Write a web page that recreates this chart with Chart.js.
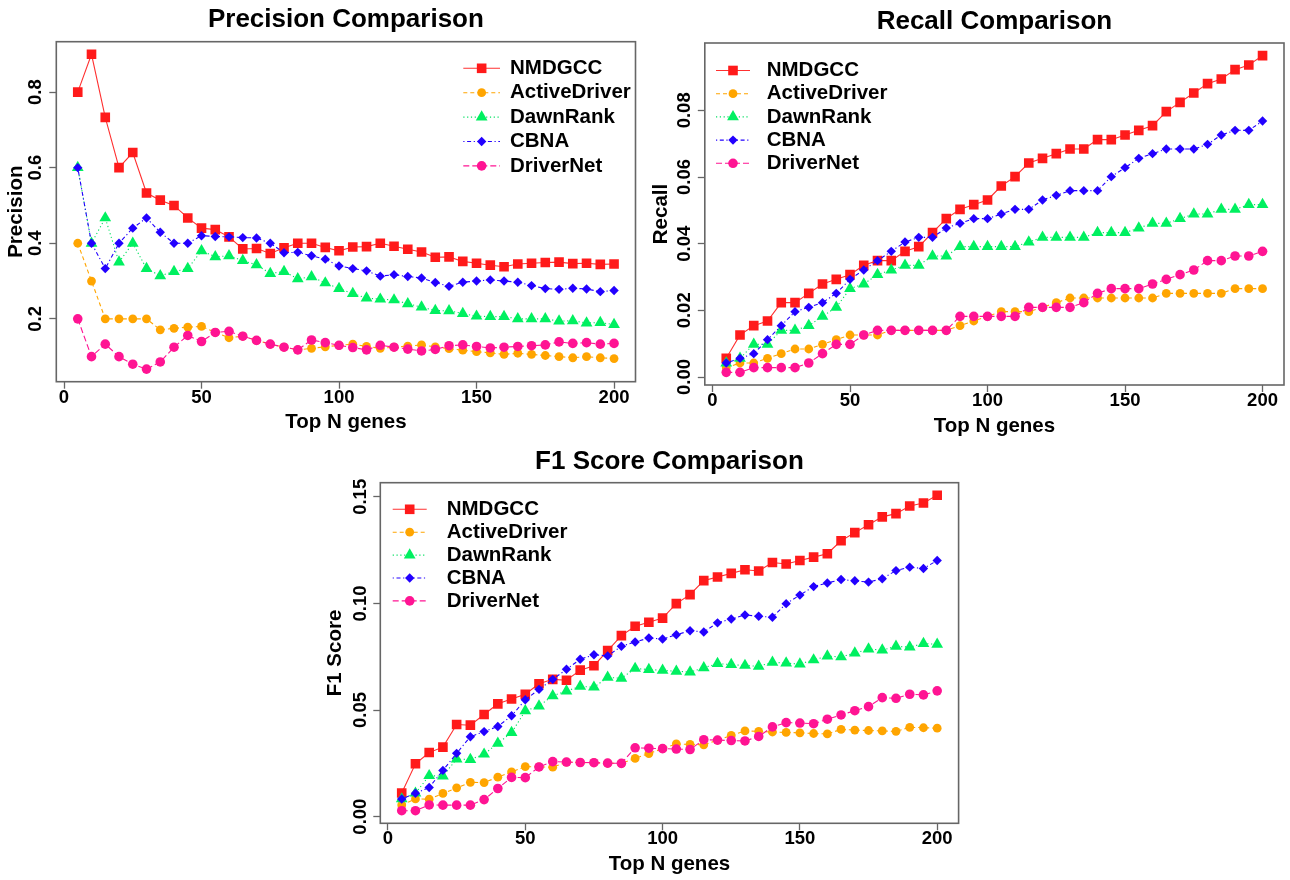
<!DOCTYPE html>
<html><head><meta charset="utf-8">
<script src="https://cdn.jsdelivr.net/npm/chart.js@4.4.1/dist/chart.umd.min.js"></script>
<style>
html,body{margin:0;padding:0;background:#fff;width:1290px;height:880px;overflow:hidden;}
canvas{position:absolute;}
</style></head><body>
<canvas id="cPrec" width="645" height="440" style="left:0px;top:0px;width:645px;height:440px"></canvas>
<canvas id="cRec" width="645" height="440" style="left:645px;top:0px;width:645px;height:440px"></canvas>
<canvas id="cF1" width="650" height="440" style="left:320px;top:440px;width:650px;height:440px"></canvas>
<script>
// ---------------- DATA ----------------
const methods = ['NMDGCC','ActiveDriver','DawnRank','CBNA','DriverNet'];
const topN = [5,10,15,20,25,30,35,40,45,50,55,60,65,70,75,80,85,90,95,100,105,110,115,120,125,130,135,140,145,150,155,160,165,170,175,180,185,190,195,200];

const xTicks = [0,50,100,150,200];
const xTickLabels = ['0','50','100','150','200'];
const precTicks = [0.2,0.4,0.6,0.8];
const precTickLabels = ['0.2','0.4','0.6','0.8'];
const recTicks = [0,0.02,0.04,0.06,0.08];
const recTickLabels = ['0.00','0.02','0.04','0.06','0.08'];
const f1Ticks = [0,0.05,0.10,0.15];
const f1TickLabels = ['0.00','0.05','0.10','0.15'];

const precNMDGCC = [0.8,0.9,0.733,0.6,0.64,0.533,0.514,0.5,0.467,0.44,0.436,0.417,0.385,0.386,0.373,0.388,0.4,0.4,0.389,0.38,0.39,0.391,0.4,0.392,0.384,0.377,0.363,0.364,0.352,0.347,0.342,0.338,0.345,0.347,0.349,0.35,0.346,0.347,0.344,0.345];
const precActiveDriver = [0.4,0.3,0.2,0.2,0.2,0.2,0.171,0.175,0.178,0.18,0.164,0.15,0.154,0.143,0.133,0.125,0.118,0.122,0.126,0.13,0.133,0.127,0.122,0.125,0.128,0.131,0.126,0.121,0.117,0.113,0.11,0.106,0.109,0.106,0.103,0.1,0.097,0.1,0.097,0.095];
const precDawnRank = [0.6,0.4,0.467,0.35,0.4,0.333,0.314,0.325,0.333,0.38,0.364,0.367,0.354,0.343,0.32,0.325,0.306,0.311,0.295,0.28,0.267,0.255,0.252,0.25,0.24,0.231,0.222,0.221,0.214,0.207,0.206,0.206,0.2,0.2,0.2,0.194,0.195,0.189,0.19,0.185];
const precCBNA = [0.6,0.4,0.333,0.4,0.44,0.467,0.429,0.4,0.4,0.42,0.418,0.417,0.415,0.414,0.4,0.375,0.376,0.367,0.358,0.34,0.333,0.327,0.313,0.317,0.312,0.308,0.296,0.286,0.297,0.3,0.303,0.3,0.297,0.288,0.28,0.278,0.281,0.279,0.272,0.275];
const precDriverNet = [0.2,0.1,0.133,0.1,0.08,0.067,0.086,0.125,0.156,0.14,0.164,0.167,0.154,0.143,0.133,0.125,0.118,0.144,0.137,0.13,0.124,0.118,0.13,0.125,0.12,0.115,0.119,0.129,0.131,0.127,0.123,0.125,0.127,0.129,0.131,0.139,0.135,0.137,0.133,0.135];

const recNMDGCC = [0.0056,0.0126,0.0154,0.0168,0.0223,0.0223,0.0251,0.0279,0.0293,0.0307,0.0335,0.0349,0.0349,0.0377,0.0391,0.0433,0.0475,0.0503,0.0517,0.0531,0.0573,0.0601,0.0642,0.0656,0.067,0.0684,0.0684,0.0712,0.0712,0.0726,0.074,0.0754,0.0796,0.0824,0.0852,0.088,0.0894,0.0922,0.0936,0.0964];
const recActiveDriver = [0.0028,0.0042,0.0042,0.0056,0.007,0.0084,0.0084,0.0098,0.0112,0.0126,0.0126,0.0126,0.014,0.014,0.014,0.014,0.014,0.0154,0.0168,0.0182,0.0196,0.0196,0.0196,0.0209,0.0223,0.0237,0.0237,0.0237,0.0237,0.0237,0.0237,0.0237,0.0251,0.0251,0.0251,0.0251,0.0251,0.0265,0.0265,0.0265];
const recDawnRank = [0.0042,0.0056,0.0098,0.0098,0.014,0.014,0.0154,0.0182,0.0209,0.0265,0.0279,0.0307,0.0321,0.0335,0.0335,0.0363,0.0363,0.0391,0.0391,0.0391,0.0391,0.0391,0.0405,0.0419,0.0419,0.0419,0.0419,0.0433,0.0433,0.0433,0.0447,0.0461,0.0461,0.0475,0.0489,0.0489,0.0503,0.0503,0.0517,0.0517];
const recCBNA = [0.0042,0.0056,0.007,0.0112,0.0154,0.0196,0.0209,0.0223,0.0251,0.0293,0.0321,0.0349,0.0377,0.0405,0.0419,0.0419,0.0447,0.0461,0.0475,0.0475,0.0489,0.0503,0.0503,0.0531,0.0545,0.0559,0.0559,0.0559,0.0601,0.0628,0.0656,0.067,0.0684,0.0684,0.0684,0.0698,0.0726,0.074,0.074,0.0768];
const recDriverNet = [0.0014,0.0014,0.0028,0.0028,0.0028,0.0028,0.0042,0.007,0.0098,0.0098,0.0126,0.014,0.014,0.014,0.014,0.014,0.014,0.0182,0.0182,0.0182,0.0182,0.0182,0.0209,0.0209,0.0209,0.0209,0.0223,0.0251,0.0265,0.0265,0.0265,0.0279,0.0293,0.0307,0.0321,0.0349,0.0349,0.0363,0.0363,0.0377];

const f1NMDGCC = [0.0111,0.0248,0.0301,0.0326,0.0432,0.0429,0.0479,0.0529,0.0552,0.0574,0.0623,0.0644,0.064,0.0687,0.0708,0.0779,0.0849,0.0893,0.0912,0.0931,0.0999,0.1041,0.1107,0.1124,0.1141,0.1158,0.1152,0.1192,0.1185,0.1201,0.1217,0.1233,0.1294,0.1332,0.1369,0.1406,0.1421,0.1457,0.1471,0.1507];
const f1ActiveDriver = [0.0055,0.0083,0.0082,0.0109,0.0135,0.0161,0.016,0.0185,0.021,0.0235,0.0233,0.0232,0.0256,0.0254,0.0253,0.0251,0.025,0.0273,0.0296,0.0319,0.0341,0.0339,0.0337,0.0359,0.0381,0.0402,0.04,0.0397,0.0395,0.0393,0.039,0.0388,0.0409,0.0406,0.0404,0.0402,0.04,0.0419,0.0417,0.0415];
const f1DawnRank = [0.0083,0.011,0.0192,0.019,0.027,0.0268,0.0293,0.0344,0.0394,0.0496,0.0519,0.0567,0.0589,0.0611,0.0607,0.0653,0.0649,0.0695,0.069,0.0686,0.0682,0.0678,0.0698,0.0718,0.0713,0.0709,0.0705,0.0724,0.072,0.0716,0.0735,0.0753,0.0749,0.0767,0.0786,0.0781,0.0799,0.0795,0.0812,0.0808];
const f1CBNA = [0.0083,0.011,0.0137,0.0217,0.0297,0.0375,0.0399,0.0423,0.0473,0.0548,0.0597,0.0644,0.0691,0.0738,0.0759,0.0754,0.0799,0.0819,0.0838,0.0833,0.0853,0.0872,0.0866,0.0909,0.0927,0.0946,0.094,0.0935,0.0999,0.1039,0.1079,0.1096,0.1112,0.1106,0.11,0.1116,0.1154,0.117,0.1164,0.1201];
const f1DriverNet = [0.0028,0.0028,0.0055,0.0054,0.0054,0.0054,0.008,0.0132,0.0184,0.0183,0.0233,0.0258,0.0256,0.0254,0.0253,0.0251,0.025,0.0323,0.0321,0.0319,0.0317,0.0315,0.0361,0.0359,0.0357,0.0355,0.0376,0.0421,0.0441,0.0439,0.0436,0.0457,0.0477,0.0497,0.0516,0.0558,0.0555,0.0574,0.0571,0.059];

// ---------------- STYLE ----------------
const FONT = "'Liberation Sans', Arial, Helvetica, sans-serif";
const AXIS_GRAY = '#666666';
const TICK_SIZE = 18.5, AXTITLE_SIZE = 20.5, TITLE_SIZE = 26, LEGEND_SIZE = 20.5;
const TICK_LEN = 7;
const seriesStyle = [
  {color:'#FF1A1A', line:'#FF3030', dash:[],              point:'rect',     r:6.8, order:5},
  {color:'#FFA500', line:'#FFA500', dash:[4,3],           point:'circle',   r:4.4, order:4},
  {color:'#00F060', line:'#00E060', dash:[1.2,2.6],       point:'triangle', r:6.8, order:3},
  {color:'#2200FF', line:'#2200FF', dash:[1.2,2.6,4,2.6], point:'rectRot',  r:4.7, order:2},
  {color:'#FF1493', line:'#FF1493', dash:[6,3],           point:'circle',   r:4.8, order:1}
];

function rRange(arrs){
  let mn=Infinity,mx=-Infinity;
  arrs.forEach(a=>a.forEach(v=>{ if(v<mn)mn=v; if(v>mx)mx=v; }));
  const e=(mx-mn)*0.04; return [mn-e,mx+e];
}
function measureWidest(font, texts){
  const c=document.createElement('canvas').getContext('2d'); c.font=font;
  return Math.max(...texts.map(t=>c.measureText(t).width));
}
function drawMarker(ctx, style, x, y, r){
  ctx.beginPath();
  if(style==='circle'){ ctx.arc(x,y,r,0,Math.PI*2); }
  else if(style==='rect'){ const s=Math.SQRT1_2*r; ctx.rect(x-s,y-s,2*s,2*s); }
  else if(style==='rectRot'){ ctx.moveTo(x,y-r); ctx.lineTo(x+r,y); ctx.lineTo(x,y+r); ctx.lineTo(x-r,y); ctx.closePath(); }
  else if(style==='triangle'){ const w=Math.sin(Math.PI*2/3)*r; ctx.moveTo(x,y-r); ctx.lineTo(x+w,y+r/2); ctx.lineTo(x-w,y+r/2); ctx.closePath(); }
  ctx.fill();
}

const boxPlugin = {
  id:'rbox',
  afterDatasetsDraw(chart){
    const {ctx, chartArea:a} = chart;
    ctx.save(); ctx.strokeStyle=AXIS_GRAY; ctx.lineWidth=1.6;
    ctx.strokeRect(a.left,a.top,a.right-a.left,a.bottom-a.top);
    ctx.restore();
  }
};
const legendPlugin = {
  id:'rlegend',
  afterDraw(chart, args, o){
    const ctx=chart.ctx; ctx.save();
    chart.data.datasets.forEach((ds,i)=>{
      const y=o.y0+i*o.dy;
      ctx.strokeStyle=ds.borderColor; ctx.lineWidth=ds.borderWidth;
      ctx.setLineDash(ds.borderDash||[]);
      ctx.beginPath(); ctx.moveTo(o.x0,y); ctx.lineTo(o.x0+o.len,y); ctx.stroke();
      ctx.setLineDash([]);
      ctx.fillStyle=ds.pointBackgroundColor;
      drawMarker(ctx, ds.pointStyle, o.x0+o.len/2, y, ds.pointRadius);
      ctx.fillStyle='#000'; ctx.font='bold '+LEGEND_SIZE+'px '+FONT;
      ctx.textAlign='left'; ctx.textBaseline='middle';
      ctx.fillText(ds.label, o.textX, y);
    });
    ctx.restore();
  }
};

function makeChart(c){
  const boxL=c.box.l-c.left, boxT=c.box.t-c.top, boxR=c.box.r-c.left, boxB=c.box.b-c.top;
  const titleLH=TITLE_SIZE*1.2, axLH=AXTITLE_SIZE*1.2, tickLH=TICK_SIZE*1.2;
  const tPadTop=(c.titleCY-c.top)-titleLH/2;
  const tPadBot=boxT-tPadTop-titleLH;
  const Hx=c.h-boxB;
  const xTitlePad=Hx-41-axLH/2;
  const xTickPad=16-TICK_LEN-tickLH/2;
  const widest=measureWidest('bold '+TICK_SIZE+'px '+FONT, c.yTickLabels);
  const yTickPad=(c.box.l-c.yTickCX)-TICK_LEN-widest/2;
  const yTitlePad=(c.yTitleCX-c.left)-axLH/2;
  const yr=rRange(c.series); const xr=rRange([topN]);
  const tickFont={family:FONT,size:TICK_SIZE,weight:'bold',lineHeight:1.2};
  const datasets=c.series.map((arr,i)=>({
    label:methods[i],
    data:topN.map((x,j)=>({x:x,y:arr[j]})),
    borderColor:seriesStyle[i].line, backgroundColor:seriesStyle[i].color,
    borderWidth:1.1, borderDash:seriesStyle[i].dash,
    pointStyle:seriesStyle[i].point, pointRadius:seriesStyle[i].r, pointHoverRadius:seriesStyle[i].r,
    pointBackgroundColor:seriesStyle[i].color, pointBorderColor:seriesStyle[i].color, pointBorderWidth:0,
    tension:0, fill:false, order:seriesStyle[i].order
  }));
  return new Chart(document.getElementById(c.id), {
    type:'line',
    data:{datasets},
    plugins:[boxPlugin, legendPlugin],
    options:{
      responsive:false, animation:false, devicePixelRatio:1,
      layout:{autoPadding:false, padding:{left:0, top:0, right:c.w-boxR, bottom:0}},
      plugins:{
        legend:{display:false}, tooltip:{enabled:false},
        title:{display:true, text:c.title, color:'#000', fullSize:false,
          font:{family:FONT,size:TITLE_SIZE,weight:'bold',lineHeight:1.2},
          padding:{top:tPadTop,bottom:tPadBot}},
        rlegend:{x0:c.legend.x0-c.left, len:c.legend.len, textX:c.legend.textX-c.left, y0:c.legend.y0-c.top, dy:c.legend.dy}
      },
      scales:{
        x:{type:'linear', min:xr[0], max:xr[1],
          afterBuildTicks:s=>{ s.ticks=xTicks.map(v=>({value:v})); },
          afterFit:s=>{ s.height=Hx; },
          ticks:{autoSkip:false, minRotation:0, maxRotation:0, padding:xTickPad, color:'#000', font:tickFont,
            callback:(v)=>{ const k=xTicks.indexOf(v); return k>=0?xTickLabels[k]:''; }},
          grid:{drawOnChartArea:false, drawTicks:true, tickLength:TICK_LEN, tickColor:AXIS_GRAY, tickWidth:1.3},
          border:{display:false},
          title:{display:true, text:'Top N genes', color:'#000',
            font:{family:FONT,size:AXTITLE_SIZE,weight:'bold',lineHeight:1.2}, padding:{top:0,bottom:xTitlePad}}
        },
        y:{type:'linear', min:yr[0], max:yr[1],
          afterBuildTicks:s=>{ s.ticks=c.yTicks.map(v=>({value:v})); },
          afterFit:s=>{ s.width=boxL; },
          ticks:{autoSkip:false, minRotation:90, maxRotation:90, crossAlign:'center', padding:yTickPad, color:'#000', font:tickFont,
            callback:(v)=>{ const k=c.yTicks.findIndex(t=>Math.abs(t-v)<1e-9); return k>=0?c.yTickLabels[k]:''; }},
          grid:{drawOnChartArea:false, drawTicks:true, tickLength:TICK_LEN, tickColor:AXIS_GRAY, tickWidth:1.3},
          border:{display:false},
          title:{display:true, text:c.yTitle, color:'#000',
            font:{family:FONT,size:AXTITLE_SIZE,weight:'bold',lineHeight:1.2}, padding:{top:yTitlePad,bottom:0}}
        }
      }
    }
  });
}

makeChart({id:'cPrec', left:0, top:0, w:645, h:440,
  box:{l:56.3,t:41.7,r:635.5,b:381.7}, title:'Precision Comparison', titleCY:20,
  yTitle:'Precision', yTitleCX:16, yTickCX:36, yTicks:precTicks, yTickLabels:precTickLabels,
  series:[precNMDGCC,precActiveDriver,precDawnRank,precCBNA,precDriverNet],
  legend:{x0:463.3,len:36.7,textX:510,y0:68.3,dy:24.4}});

makeChart({id:'cRec', left:645, top:0, w:645, h:440,
  box:{l:704.8,t:43,r:1284,b:385}, title:'Recall Comparison', titleCY:22,
  yTitle:'Recall', yTitleCX:661.7, yTickCX:685, yTicks:recTicks, yTickLabels:recTickLabels,
  series:[recNMDGCC,recActiveDriver,recDawnRank,recCBNA,recDriverNet],
  legend:{x0:716,len:34,textX:766.7,y0:70.5,dy:23.2}});

makeChart({id:'cF1', left:320, top:440, w:650, h:440,
  box:{l:380.3,t:482.7,r:958.6,b:823.3}, title:'F1 Score Comparison', titleCY:462,
  yTitle:'F1 Score', yTitleCX:335, yTickCX:360.5, yTicks:f1Ticks, yTickLabels:f1TickLabels,
  series:[f1NMDGCC,f1ActiveDriver,f1DawnRank,f1CBNA,f1DriverNet],
  legend:{x0:392.7,len:34,textX:446.7,y0:509.3,dy:22.9}});
</script>
</body></html>
